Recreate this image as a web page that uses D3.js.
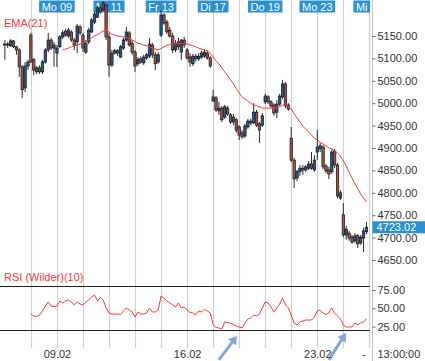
<!DOCTYPE html>
<html><head><meta charset="utf-8">
<script src="https://cdn.jsdelivr.net/npm/d3@7/dist/d3.min.js"></script>
<style>
html,body{margin:0;padding:0;background:#fff;}
svg{display:block;font-family:Arial,"Liberation Sans",sans-serif;}
</style></head><body>
<svg id="c" width="425" height="361"></svg>
<script>
// ---------- data ----------
const days = ["Do 05","Fr 06","Mo 09","Di 10","Mi 11","Do 12","Fr 13","Mo 16","Di 17","Mi 18","Do 19","Fr 20","Mo 23","Di 24","Mi 25"];
const perDay = 9;
const topLabelDays = [2,4,6,8,10,12,14];
const bottomLabelDays = [2,7,12];
const bottomLabels = ["09.02","16.02","23.02"];
const priceTicks = [5150,5100,5050,5000,4950,4900,4850,4800,4750,4700,4650];
const rsiTicks = [75,50,25];
const rsiBands = [80,20];
const lastPrice = 4723.02;
const lastTime = "13:00:00";

const open = [
5132,5130,5128,5139,5126,5119,5081,5034,5083,
5152,5097,5070,5079,5070,5092,5119,5141,5123,
5112,5126,5148,5161,5150,5159,5141,5137,5170,
5152,5114,5137,5159,5181,5192,5213,5208,5219,
5148,5085,5112,5117,5103,5123,5141,5157,5134,
5114,5088,5099,5090,5101,5105,5130,5108,5092,
5152,5197,5181,5163,5150,5119,5137,5114,5141,
5119,5103,5088,5105,5099,5103,5105,5112,5101,
5005,5012,4983,4989,4969,4989,4974,4958,4963,
4947,4934,4927,4947,4960,4956,4980,4954,4951,
5003,5014,5003,4996,4980,4998,5014,5043,4996,
4922,4873,4833,4847,4855,4851,4855,4864,4851,
4891,4898,4902,4860,4851,4847,4893,4862,4788,
4751,4706,4710,4701,4693,4704,4688,4699,4713];
const high = [
5141,5137,5143,5141,5128,5123,5085,5092,5097,
5157,5101,5083,5085,5097,5123,5157,5146,5137,
5130,5152,5163,5166,5168,5163,5146,5177,5175,
5157,5141,5168,5190,5204,5217,5219,5228,5224,
5157,5119,5121,5121,5130,5146,5170,5161,5141,
5119,5103,5105,5108,5112,5146,5134,5114,5114,
5208,5201,5186,5170,5157,5141,5146,5143,5148,
5123,5112,5110,5110,5112,5117,5119,5117,5105,
5030,5016,5003,4994,4996,4994,4978,4976,4967,
4951,4940,4954,4965,4965,5000,4985,4958,4978,
5021,5018,5007,5000,5007,5021,5052,5047,5000,
4947,4878,4851,4862,4862,4862,4871,4891,4884,
4940,4911,4907,4864,4858,4896,4898,4867,4806,
4777,4726,4715,4706,4710,4708,4706,4722,4735];
const low = [
5097,5123,5126,5123,5108,5059,5012,5025,5074,
5090,5063,5065,5065,5065,5088,5114,5119,5081,
5081,5123,5143,5148,5146,5137,5119,5112,5152,
5114,5110,5132,5157,5177,5190,5199,5206,5141,
5059,5081,5108,5105,5101,5119,5137,5126,5108,
5070,5083,5088,5085,5097,5101,5101,5074,5088,
5148,5175,5154,5146,5112,5114,5119,5097,5123,
5097,5081,5083,5092,5094,5099,5101,5097,5079,
5003,4980,4974,4958,4965,4972,4954,4951,4934,
4918,4920,4922,4943,4951,4954,4947,4911,4947,
4998,4998,4989,4972,4967,4994,5009,4989,4983,
4869,4811,4826,4838,4840,4847,4851,4851,4847,
4873,4891,4853,4844,4831,4842,4855,4788,4784,
4701,4695,4693,4686,4688,4677,4684,4668,4708];
const close = [
5130,5132,5139,5126,5119,5081,5030,5083,5092,
5092,5074,5079,5070,5092,5119,5141,5123,5130,
5123,5148,5157,5152,5163,5141,5130,5172,5157,
5123,5134,5163,5186,5199,5213,5204,5224,5148,
5085,5112,5117,5112,5126,5141,5159,5130,5114,
5083,5097,5092,5103,5108,5132,5108,5088,5108,
5197,5179,5159,5150,5119,5134,5126,5141,5130,
5101,5092,5105,5099,5105,5112,5114,5101,5083,
5014,4985,4989,4963,4992,4976,4958,4969,4940,
4929,4925,4949,4960,4956,4980,4951,4940,4972,
5016,5003,4994,4978,4998,5016,5043,4994,4987,
4873,4831,4847,4855,4851,4858,4864,4855,4873,
4902,4905,4858,4849,4842,4891,4862,4793,4800,
4706,4719,4699,4690,4704,4686,4701,4715,4723.02];

const emaStart = 20;
const ema = [
5119,5121,5123,5126,5128,5130,5132,5134,5139,5142,
5146,5150,5153,5157,5161,5163,5159,5154,5152,5150,
5149,5148,5147,5144,5141,5138,5134,5132,5130,5128,
5126,5123,5121,5119,5122,5126,5129,5131,5132,5133,
5133,5133,5133,5132,5130,5128,5126,5123,5121,5119,
5117,5112,5103,5094,5088,5079,5070,5061,5052,5043,
5032,5023,5014,5009,5005,5000,4996,4994,4992,4989,
4989,4989,4989,4989,4990,4992,4996,4996,4994,4987,
4976,4967,4958,4949,4942,4936,4929,4922,4918,4913,
4909,4905,4900,4898,4893,4889,4882,4871,4860,4846,
4833,4820,4809,4797,4788,4780];

const rsiStart = 9;
const rsi = [
42.2,39.5,38.8,40.9,46.3,53.1,58.6,53.1,52.5,53.1,
60.0,57.2,60.0,61.3,58.6,54.5,58.6,55.9,54.5,58.6,
61.3,65.4,68.1,60.0,64.7,61.3,50.4,43.6,42.2,42.2,
42.2,41.5,46.3,50.4,47.7,45.0,38.1,45.0,42.2,42.2,
43.6,50.4,45.0,45.0,47.7,66.8,64.0,60.0,57.2,54.5,
51.8,57.2,50.4,51.8,47.7,44.3,43.6,40.9,46.3,45.0,
48.4,46.3,43.6,27.2,23.8,23.1,21.8,31.3,30.6,29.9,
27.9,25.9,24.5,23.1,29.9,35.4,36.8,40.9,39.5,42.2,
50.4,58.6,57.2,51.8,45.0,50.4,55.9,64.0,54.5,50.4,
40.9,29.9,27.2,31.3,32.7,34.0,34.0,34.0,38.1,46.3,
47.7,43.6,41.5,43.6,50.4,43.6,39.5,35.4,27.2,24.5,
24.5,24.5,29.9,27.9,29.9,31.3,36.1];

// annotation arrows in (candle index, RSI value) coordinates
const arrows = [{from:[74.0,-20.5], to:[80.2,12.2]}, {from:[112.0,-20.5], to:[117.9,16.3]}];

// ---------- chart ----------
const svg = d3.select("#c");
const plotR = 370, axisX = 372.5;
const mainBottom = 268, rsiTop = 268, rsiBottom = 348;
const nSlots = (days.length - 1) * perDay;
const x = d3.scaleLinear().domain([0, nSlots]).range([4.85, 4.85 + nSlots * 2.893]);
const y = d3.scaleLinear().domain([4650, 5150]).range([260, 36]);
const yR = d3.scaleLinear().domain([25, 75]).range([326.6, 290]);

const UP = "#1f5e94", DOWN = "#a3524c", RED = "#ff3636", BLUE = "#2a8fd3";

const defs = svg.append("defs");
defs.append("clipPath").attr("id","cm").append("rect").attr("x",0).attr("y",0).attr("width",plotR).attr("height",mainBottom);
defs.append("clipPath").attr("id","cr").append("rect").attr("x",0).attr("y",rsiTop).attr("width",plotR).attr("height",rsiBottom-rsiTop);
defs.append("clipPath").attr("id","ct").append("rect").attr("x",0).attr("y",0).attr("width",plotR).attr("height",20);

// vertical day gridlines
const gridDays = d3.range(1, days.length);
svg.append("g").selectAll("line").data(gridDays).join("line")
  .attr("x1", d => Math.round(x(d*perDay))+0.5).attr("x2", d => Math.round(x(d*perDay))+0.5)
  .attr("y1", 0).attr("y2", rsiBottom)
  .attr("stroke", "#d0d0d0").attr("stroke-width", 1.2);

// top day labels
const tl = svg.append("g").attr("clip-path","url(#ct)").selectAll("g").data(topLabelDays).join("g")
  .attr("transform", d => `translate(${x(d*perDay)},0)`);
tl.each(function(d){
  const g = d3.select(this);
  const t = g.append("text").text(days[d]).attr("font-size",11).attr("fill","#fff")
     .attr("text-anchor","middle").attr("y",10.5);
  const w = t.node().getComputedTextLength() + 5;
  g.insert("rect","text").attr("x",-w/2).attr("y",0.5).attr("width",w).attr("height",12).attr("fill",BLUE);
});

// candles
const candles = open.map((o,i)=>({i, o, h:high[i], l:low[i], c:close[i]}));
const cg = svg.append("g").attr("clip-path","url(#cm)");
cg.selectAll("line.w").data(candles).join("line").attr("class","w")
  .attr("x1", d => x(d.i)).attr("x2", d => x(d.i))
  .attr("y1", d => y(d.h)).attr("y2", d => y(d.l))
  .attr("stroke", "#2b2b2b").attr("stroke-width", 1);
cg.selectAll("rect").data(candles).join("rect")
  .attr("x", d => x(d.i) - 1.2).attr("width", 2.4)
  .attr("y", d => y(Math.max(d.o,d.c)))
  .attr("height", d => Math.max(1, Math.abs(y(d.o)-y(d.c))))
  .attr("fill", d => d.c >= d.o ? UP : DOWN)
  .attr("stroke", "#111").attr("stroke-width", 0.7);

// EMA
const emaPts = ema.map((v,k)=>[emaStart+k, v]);
cg.append("path").datum(emaPts)
  .attr("d", d3.line().x(d=>x(d[0])).y(d=>y(d[1])))
  .attr("fill","none").attr("stroke",RED).attr("stroke-width",1);

svg.append("text").text("EMA(21)").attr("x",4).attr("y",27).attr("font-size",11).attr("fill",RED);

// RSI panel
const rg = svg.append("g").attr("clip-path","url(#cr)");
rg.selectAll("line.b").data(rsiBands).join("line").attr("class","b")
  .attr("x1",0).attr("x2",plotR).attr("y1",d=>Math.round(yR(d))+0.5).attr("y2",d=>Math.round(yR(d))+0.5)
  .attr("stroke","#222").attr("stroke-width",1);
const rsiPts = rsi.map((v,k)=>[rsiStart+k, v]);
rg.append("path").datum(rsiPts)
  .attr("d", d3.line().x(d=>x(d[0])).y(d=>yR(d[1])))
  .attr("fill","none").attr("stroke",RED).attr("stroke-width",1);
svg.append("text").text("RSI (Wilder)(10)").attr("x",4).attr("y",281).attr("font-size",11).attr("fill",RED);

// arrows
const ag = svg.append("g");
arrows.forEach(a=>{
  const x0=x(a.from[0]), y0=yR(a.from[1]), x1=x(a.to[0]), y1=yR(a.to[1]);
  const dx=x1-x0, dy=y1-y0, L=Math.hypot(dx,dy), ux=dx/L, uy=dy/L;
  const hl=8, hw=5;
  const bx=x1-ux*hl, by=y1-uy*hl;
  ag.append("line").attr("x1",x0).attr("y1",y0).attr("x2",bx+ux).attr("y2",by+uy)
    .attr("stroke","#7ea7da").attr("stroke-width",3);
  ag.append("path").attr("d",`M${x1},${y1}L${bx-uy*hw},${by+ux*hw}L${bx+uy*hw},${by-ux*hw}Z`).attr("fill","#7ea7da");
});

// right axis line
svg.append("line").attr("x1",axisX).attr("x2",axisX).attr("y1",0).attr("y2",361).attr("stroke","#c4c4c4");

// price axis
const ya = svg.append("g").attr("transform",`translate(${axisX},0)`)
  .call(d3.axisRight(y).tickValues(priceTicks).tickFormat(d3.format(".2f")).tickSize(3).tickPadding(2));
ya.select(".domain").remove();
ya.selectAll("line").attr("stroke","#666");
ya.selectAll("text").attr("fill","#333").attr("font-size",11).attr("font-family","Arial, Liberation Sans, sans-serif");

// RSI axis
const ra = svg.append("g").attr("transform",`translate(${axisX},0)`)
  .call(d3.axisRight(yR).tickValues(rsiTicks).tickFormat(d3.format(".2f")).tickSize(3).tickPadding(2));
ra.select(".domain").remove();
ra.selectAll("line").attr("stroke","#666");
ra.selectAll("text").attr("fill","#333").attr("font-size",11).attr("font-family","Arial, Liberation Sans, sans-serif");

// last price label
const ly = y(lastPrice);
svg.append("rect").attr("x",axisX).attr("y",ly-6).attr("width",425-axisX).attr("height",12).attr("fill",BLUE);
svg.append("text").text(d3.format(".2f")(lastPrice)).attr("x",axisX+4).attr("y",ly+4).attr("font-size",11).attr("fill","#fff");

// bottom axis
const xa = svg.append("g").attr("transform",`translate(0,${rsiBottom})`)
  .call(d3.axisBottom(x).tickValues(bottomLabelDays.map(d=>d*perDay))
     .tickFormat((d,k)=>bottomLabels[k]).tickSize(0).tickPadding(2.5));
xa.select(".domain").remove();
xa.selectAll("text").attr("fill","#333").attr("font-size",11).attr("font-family","Arial, Liberation Sans, sans-serif");
svg.append("text").text("-").attr("x",362).attr("y",358).attr("font-size",11).attr("fill","#333");
svg.append("text").text(lastTime).attr("x",axisX+5).attr("y",358).attr("font-size",11).attr("fill","#333");
</script>
</body></html>
